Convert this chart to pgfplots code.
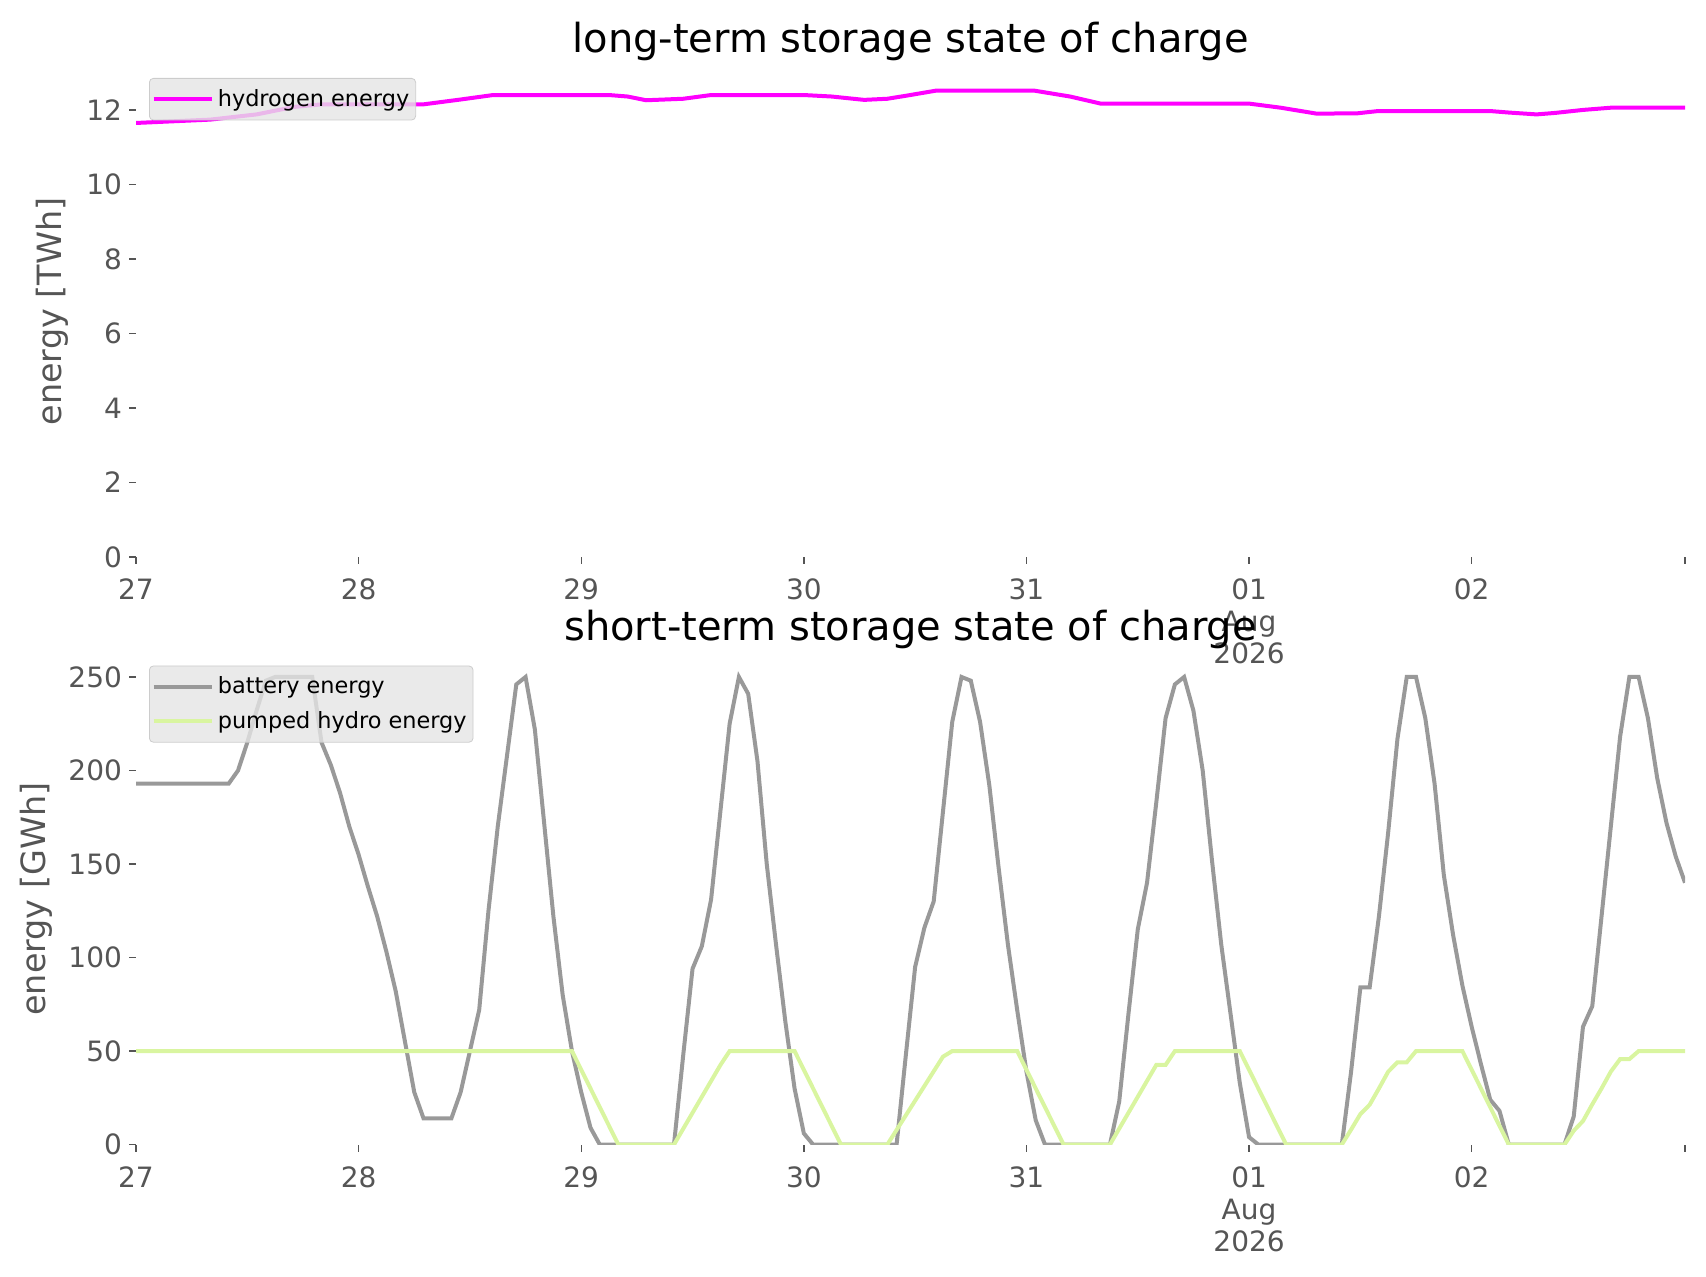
\documentclass[border=0pt]{standalone}
\usepackage{fontspec}
\setmainfont{DejaVu Sans}
\usepackage{pgfplots}
\usepackage{pgfplotstable}
\pgfplotsset{compat=1.18}
\definecolor{tickgray}{HTML}{555555}
\definecolor{h2col}{HTML}{FF00FF}
\definecolor{batcol}{HTML}{999999}
\definecolor{phscol}{HTML}{D9F5A0}
\definecolor{legfill}{HTML}{E5E5E5}
\definecolor{legdraw}{HTML}{CCCCCC}

\pgfplotstableread{
h v
0 11.65
8 11.74
13 11.88
17 12.08
20 12.15
31 12.15
35 12.28
38.5 12.40
51 12.40
53 12.36
55 12.26
57 12.28
59 12.30
62 12.40
72 12.40
75 12.36
78.5 12.27
81 12.30
83 12.38
86.3 12.52
96.8 12.52
100.7 12.36
104 12.17
120 12.17
123.4 12.06
127.3 11.90
131.7 11.91
133.9 11.97
146 11.97
148 11.93
151 11.88
153 11.92
156 12.00
159 12.06
167 12.06
}\hydrogen

\pgfplotstableread{
h v
0 193
10 193
11 200
12 215
13 232
14 248
15 250
19 250
20 215
21 203
22 188
23 170
24 155
25 138
26 122
27 103
28 82
29 55
30 28
31 14
34 14
35 28
36 50
37 72
38 125
39 170
40 208
41 246
42 250
43 222
44 172
45 122
46 80
47 50
48 28
49 9
50 0
58 0
59 48
60 94
61 106
62 131
63 178
64 225
65 250
66 241
67 205
68 150
69 107
70 66
71 30
72 6
73 0
82 0
83 48
84 95
85 116
86 130
87 178
88 226
89 250
90 248
91 226
92 192
93 148
94 107
95 72
96 39
97 13
98 0
105 0
106 23
107 70
108 115
109 140
110 183
111 228
112 246
113 250
114 232
115 200
116 152
117 107
118 70
119 33
120 4
121 0
130 0
131 39
132 84
133 84
134 122
135 167
136 217
137 250
138 250
139 228
140 193
141 144
142 112
143 85
144 63
145 43
146 24
147 18
148 0
154 0
155 15
156 63
157 74
158 122
159 170
160 218
161 250
162 250
163 228
164 196
165 172
166 154
167 140
}\battery

\pgfplotstableread{
h v
0 50
47 50
52 0
58 0
63 42.5
64 50
71 50
76 0
81 0
87 47
88 50
95 50
100 0
105 0
110 42.6
111 42.6
112 50
119 50
124 0
130 0
131 8
132 16.3
133 21.3
134 30
135 39
136 44
137 44
138 50
143 50
148 0
154 0
155 7.4
156 12.6
157 21.5
158 30
159 39
160 45.7
161 45.7
162 50
167 50
}\phs

\pgfplotsset{
  mystyle/.style={
    scale only axis, width=774.5pt, height=245.5pt,
    xmin=0, xmax=167, ymin=0,
    axis line style={draw=none},
    xtick={0,24,48,72,96,120,144,167},
    xticklabels={27,28,29,30,31,{01\\Aug\\2026},02,{}},
    tick align=outside, xtick pos=bottom, ytick pos=left,
    major tick length=3.5pt,
    every tick/.style={tickgray, line width=0.7pt},
    tick label style={font=\fontsize{14}{16}\selectfont, text=tickgray},
    xticklabel style={align=center, yshift=-3.8pt},
    /pgf/number format/assume math mode=true,
    ylabel style={font=\fontsize{16.7}{20}\selectfont, text=tickgray, at={(axis description cs:0,0.5)}, anchor=center},
    title style={font=\fontsize{20}{24}\selectfont, at={(axis description cs:0.5,1)}, anchor=base, yshift=0.5pt},
    legend style={at={(axis description cs:0,1)}, anchor=north west, xshift=6.5pt, yshift=-6pt,
      fill=legfill, fill opacity=0.8, draw opacity=1, text opacity=1, draw=legdraw,
      rounded corners=2pt, font=\fontsize{11.2}{13}\selectfont, inner xsep=1.2pt, inner ysep=3.4pt, row sep=3.3pt},
    legend cell align=left,
    legend image code/.code={\draw[#1] (0pt,0pt) -- (24pt,0pt); \path (0pt,0pt) -- (29pt,0pt);},
  }
}

\begin{document}
\begin{tikzpicture}
\useasboundingbox (0,0) rectangle (853pt,638.5pt);
\begin{axis}[mystyle, at={(68pt,360pt)}, anchor=south west,
  ymax=13.18, ytick={0,2,4,6,8,10,12},
  title={long-term storage state of charge},
  ylabel={energy [TWh]}, ylabel style={yshift=42pt}]
\addplot[h2col, line width=2pt] table[x=h,y=v] {\hydrogen};
\addlegendentry{hydrogen energy}
\end{axis}
\begin{axis}[mystyle, at={(68pt,66.2pt)}, anchor=south west,
  ymax=262.5, ytick={0,50,100,150,200,250},
  title={short-term storage state of charge},
  ylabel={energy [GWh]}, ylabel style={yshift=50pt}]
\addplot[batcol, line width=2pt] table[x=h,y=v] {\battery};
\addlegendentry{battery energy}
\addplot[phscol, line width=2pt] table[x=h,y=v] {\phs};
\addlegendentry{pumped hydro energy}
\end{axis}
\end{tikzpicture}
\end{document}
